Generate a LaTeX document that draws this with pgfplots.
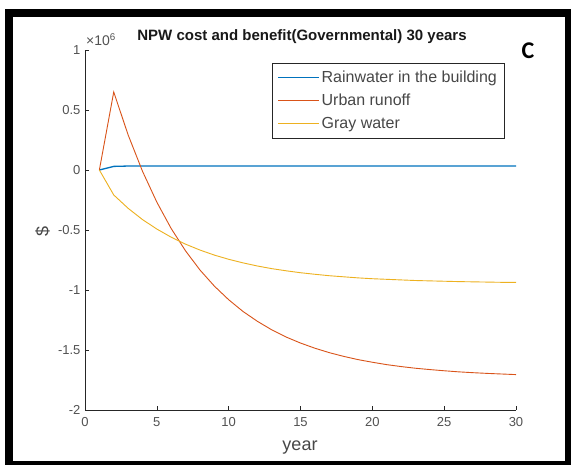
\documentclass[border=0pt]{standalone}
\usepackage{pgfplots}
\pgfplotsset{compat=1.18}
\usepackage{fontspec}
\setmainfont{Liberation Sans}
\newfontfamily\calibri{Carlito}
\definecolor{mblue}{rgb}{0,0.447,0.741}
\definecolor{mred}{rgb}{0.850,0.325,0.098}
\definecolor{myellow}{rgb}{0.929,0.694,0.125}
\definecolor{maxis}{rgb}{0.15,0.15,0.15}
\begin{document}
\begin{tikzpicture}
\useasboundingbox (0pt,0pt) rectangle (571pt,-465pt);
\fill[white] (0pt,0pt) rectangle (571pt,-465pt);
\draw[line width=8pt] (9pt,-13pt) rectangle (569pt,-465pt);
\begin{axis}[
  at={(85pt,-410pt)}, anchor=south west,
  scale only axis, width=431pt, height=360pt,
  xmin=0, xmax=30, ymin=-2000000, ymax=1000000,
  axis lines*=left, axis line style={-, maxis, line width=0.6pt},
  tick align=inside, major tick length=4pt,
  tick style={maxis, line width=0.6pt},
  xtick={0,5,10,15,20,25,30},
  ytick={-2000000,-1500000,-1000000,-500000,0,500000,1000000},
  yticklabels={-2,-1.5,-1,-0.5,0,0.5,1},
  scaled y ticks=false,
  /pgf/number format/assume math mode=true,
  ticklabel style={font=\fontsize{13}{15}\selectfont, text=maxis!80!white},
  xticklabel style={yshift=-4pt},
  yticklabel style={xshift=-1pt},
  legend style={at={(rel axis cs:0.434,0.964)}, anchor=north west,
    draw=maxis, line width=0.6pt, inner xsep=5pt, inner ysep=6pt,
    font=\fontsize{16}{19}\selectfont, text=maxis!85!white,
    cells={anchor=west}, row sep=6pt},
  legend image code/.code={\draw[#1] (0pt,0pt) -- (41pt,0pt);},
  clip=false,
]
\addplot[mblue, line width=1.3pt] coordinates {
(1,0) (2,30000) (3,33000) (4,33000) (5,33000) (6,33000) (7,33000) (8,33000)
(9,33000) (10,33000) (11,33000) (12,33000) (13,33000) (14,33000) (15,33000)
(16,33000) (17,33000) (18,33000) (19,33000) (20,33000) (21,33000) (22,33000)
(23,33000) (24,33000) (25,33000) (26,33000) (27,33000) (28,33000) (29,33000) (30,33000)};
\addlegendentry{Rainwater in the building}
\addplot[mred, line width=0.9pt] coordinates {
(1,0) (2,650000) (3,293000) (4,-10000) (5,-268000) (6,-488000) (7,-674000)
(8,-833000) (9,-967000) (10,-1081000) (11,-1179000) (12,-1261000) (13,-1332000)
(14,-1392000) (15,-1442000) (16,-1485000) (17,-1522000) (18,-1553000)
(19,-1580000) (20,-1602000) (21,-1622000) (22,-1638000) (23,-1652000)
(24,-1663000) (25,-1673000) (26,-1682000) (27,-1689000) (28,-1695000)
(29,-1700000) (30,-1705000)};
\addlegendentry{Urban runoff}
\addplot[myellow, line width=0.9pt] coordinates {
(1,0) (2,-208000) (3,-319000) (4,-413000) (5,-492000) (6,-560000) (7,-618000)
(8,-667000) (9,-709000) (10,-744000) (11,-774000) (12,-800000) (13,-822000)
(14,-840000) (15,-856000) (16,-869000) (17,-881000) (18,-890000) (19,-899000)
(20,-906000) (21,-911000) (22,-916000) (23,-921000) (24,-924000) (25,-927000)
(26,-930000) (27,-932000) (28,-934000) (29,-936000) (30,-937000)};
\addlegendentry{Gray water}
\end{axis}
\node[font=\fontsize{15}{18}\selectfont\bfseries, text=black!90] at (302pt,-37pt) {NPW cost and benefit(Governmental) 30 years};
\node[anchor=base west, font=\fontsize{14}{16}\selectfont, text=maxis!80!white, inner sep=0pt] at (86pt,-46pt) {×10\textsuperscript{6}};
\node[font=\fontsize{24}{28}\selectfont\calibri\bfseries, inner sep=0pt] at (528pt,-50.5pt) {C};
\node[font=\fontsize{18}{21}\selectfont, rotate=90, text=maxis!85!white] at (42.5pt,-231pt) {\$};
\node[font=\fontsize{18}{21}\selectfont, text=maxis!85!white] at (300pt,-448pt) {year};
\end{tikzpicture}
\end{document}
